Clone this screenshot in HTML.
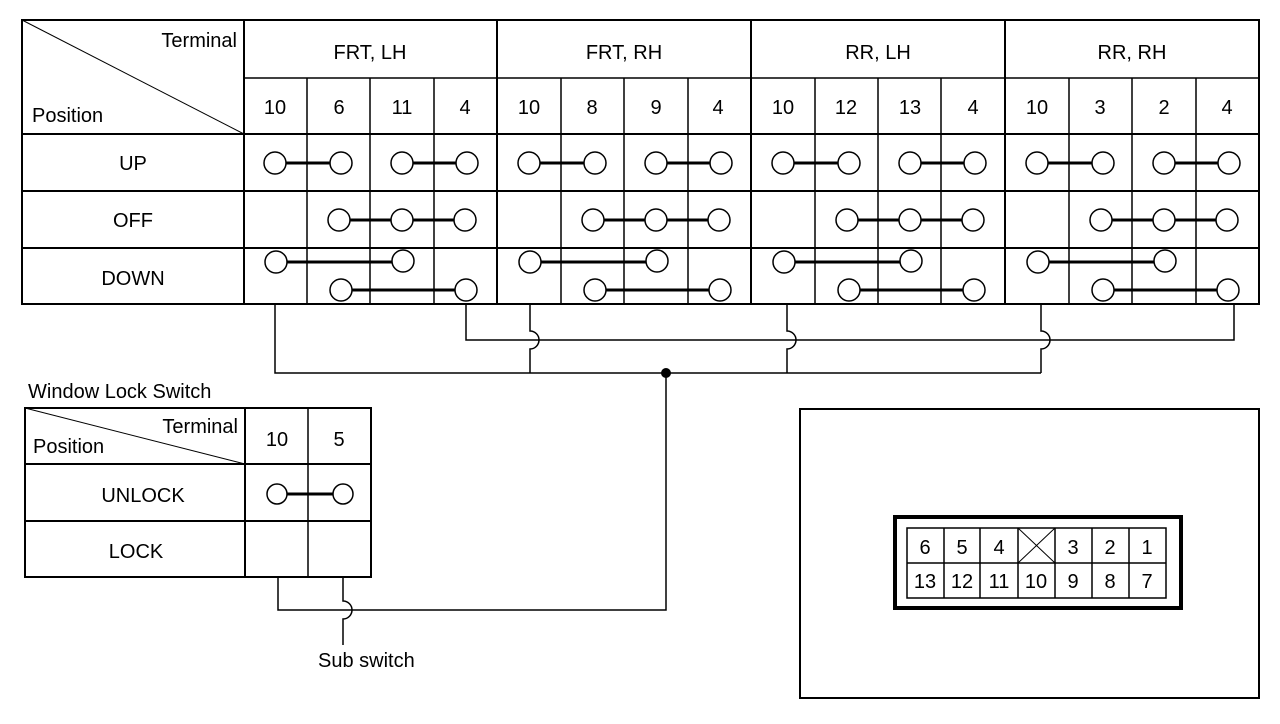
<!DOCTYPE html>
<html><head><meta charset="utf-8"><style>
html,body{margin:0;padding:0;background:#fff;}
svg{display:block;}
text{font-family:"Liberation Sans",Arial,sans-serif;fill:#000;}
</style></head><body>
<svg width="1280" height="724" viewBox="0 0 1280 724" xmlns="http://www.w3.org/2000/svg">
<g stroke="#000" fill="none">
<rect x="22" y="20" width="1237" height="284" stroke-width="2"/>
<line x1="22" y1="20" x2="244" y2="134" stroke-width="1"/>
<line x1="244" y1="20" x2="244" y2="304" stroke-width="2"/>
<line x1="497" y1="20" x2="497" y2="304" stroke-width="2"/>
<line x1="751" y1="20" x2="751" y2="304" stroke-width="2"/>
<line x1="1005" y1="20" x2="1005" y2="304" stroke-width="2"/>
<line x1="244" y1="78" x2="1259" y2="78" stroke-width="1.5"/>
<line x1="22" y1="134" x2="1259" y2="134" stroke-width="2"/>
<line x1="22" y1="191" x2="1259" y2="191" stroke-width="2"/>
<line x1="22" y1="248" x2="1259" y2="248" stroke-width="2"/>
<g stroke-width="1.5">
<line x1="307" y1="78" x2="307" y2="304"/><line x1="370" y1="78" x2="370" y2="304"/><line x1="434" y1="78" x2="434" y2="304"/>
<line x1="561" y1="78" x2="561" y2="304"/><line x1="624" y1="78" x2="624" y2="304"/><line x1="688" y1="78" x2="688" y2="304"/>
<line x1="815" y1="78" x2="815" y2="304"/><line x1="878" y1="78" x2="878" y2="304"/><line x1="941" y1="78" x2="941" y2="304"/>
<line x1="1069" y1="78" x2="1069" y2="304"/><line x1="1132" y1="78" x2="1132" y2="304"/><line x1="1196" y1="78" x2="1196" y2="304"/>
</g>
</g>
<g font-size="20" text-anchor="middle">
<text x="237" y="47" text-anchor="end">Terminal</text>
<text x="32" y="122" text-anchor="start">Position</text>
<text x="370" y="59">FRT, LH</text><text x="624" y="59">FRT, RH</text><text x="878" y="59">RR, LH</text><text x="1132" y="59">RR, RH</text>
<text x="275" y="114">10</text><text x="339" y="114">6</text><text x="402" y="114">11</text><text x="465" y="114">4</text>
<text x="529" y="114">10</text><text x="592" y="114">8</text><text x="656" y="114">9</text><text x="718" y="114">4</text>
<text x="783" y="114">10</text><text x="846" y="114">12</text><text x="910" y="114">13</text><text x="973" y="114">4</text>
<text x="1037" y="114">10</text><text x="1100" y="114">3</text><text x="1164" y="114">2</text><text x="1227" y="114">4</text>
<text x="133" y="170">UP</text><text x="133" y="227">OFF</text><text x="133" y="285">DOWN</text>
</g>
<defs>
<g id="sw">
<line x1="275" y1="163" x2="341" y2="163" stroke="#000" stroke-width="3"/>
<line x1="402" y1="163" x2="467" y2="163" stroke="#000" stroke-width="3"/>
<line x1="339" y1="220" x2="465" y2="220" stroke="#000" stroke-width="3"/>
<line x1="276" y1="262" x2="403" y2="262" stroke="#000" stroke-width="3"/>
<line x1="341" y1="290" x2="466" y2="290" stroke="#000" stroke-width="3"/>
<g fill="#fff" stroke="#000" stroke-width="1.5">
<circle cx="275" cy="163" r="11"/><circle cx="341" cy="163" r="11"/><circle cx="402" cy="163" r="11"/><circle cx="467" cy="163" r="11"/>
<circle cx="339" cy="220" r="11"/><circle cx="402" cy="220" r="11"/><circle cx="465" cy="220" r="11"/>
<circle cx="276" cy="262" r="11"/><circle cx="403" cy="261" r="11"/>
<circle cx="341" cy="290" r="11"/><circle cx="466" cy="290" r="11"/>
</g>
</g>
</defs>
<use href="#sw"/>
<use href="#sw" transform="translate(254,0)"/>
<use href="#sw" transform="translate(508,0)"/>
<use href="#sw" transform="translate(762,0)"/>
<g stroke="#000" fill="none" stroke-width="1.5">
<path d="M466 304 V340 H1234 V304"/>
<path d="M275 304 V373 H1041"/>
<path d="M530 304 V331 a9 9 0 0 1 0 18 V373"/>
<path d="M787 304 V331 a9 9 0 0 1 0 18 V373"/>
<path d="M1041 304 V331 a9 9 0 0 1 0 18 V373"/>
<path d="M666 373 V610 H278 V577"/>
<path d="M343 577 V601 a9 9 0 0 1 0 18 V645"/>
</g>
<circle cx="666" cy="373" r="5" fill="#000"/>
<g stroke="#000" fill="none">
<rect x="25" y="408" width="346" height="169" stroke-width="2"/>
<line x1="25" y1="408" x2="245" y2="464" stroke-width="1"/>
<line x1="245" y1="408" x2="245" y2="577" stroke-width="2"/>
<line x1="308" y1="408" x2="308" y2="577" stroke-width="1.5"/>
<line x1="25" y1="464" x2="371" y2="464" stroke-width="2"/>
<line x1="25" y1="521" x2="371" y2="521" stroke-width="2"/>
<line x1="277" y1="494" x2="343" y2="494" stroke-width="3"/>
<circle cx="277" cy="494" r="10" fill="#fff" stroke-width="1.5"/>
<circle cx="343" cy="494" r="10" fill="#fff" stroke-width="1.5"/>
</g>
<g font-size="20">
<text x="28" y="398">Window Lock Switch</text>
<text x="238" y="433" text-anchor="end">Terminal</text>
<text x="33" y="453">Position</text>
<text x="277" y="446" text-anchor="middle">10</text><text x="339" y="446" text-anchor="middle">5</text>
<text x="143" y="502" text-anchor="middle">UNLOCK</text>
<text x="136" y="558" text-anchor="middle">LOCK</text>
<text x="318" y="667">Sub switch</text>
</g>
<g stroke="#000" fill="none">
<rect x="800" y="409" width="459" height="289" stroke-width="2"/>
<rect x="895" y="517" width="286" height="91" stroke-width="4"/>
<rect x="907" y="528" width="259" height="70" stroke-width="1.5"/>
<line x1="907" y1="563" x2="1166" y2="563" stroke-width="1.5"/>
<line x1="944" y1="528" x2="944" y2="598" stroke-width="1.5"/>
<line x1="980" y1="528" x2="980" y2="598" stroke-width="1.5"/>
<line x1="1018" y1="528" x2="1018" y2="598" stroke-width="1.5"/>
<line x1="1055" y1="528" x2="1055" y2="598" stroke-width="1.5"/>
<line x1="1092" y1="528" x2="1092" y2="598" stroke-width="1.5"/>
<line x1="1129" y1="528" x2="1129" y2="598" stroke-width="1.5"/>
<line x1="1018" y1="528" x2="1055" y2="563" stroke-width="1"/>
<line x1="1055" y1="528" x2="1018" y2="563" stroke-width="1"/>
</g>
<g font-size="20" text-anchor="middle">
<text x="925" y="554">6</text><text x="962" y="554">5</text><text x="999" y="554">4</text>
<text x="1073" y="554">3</text><text x="1110" y="554">2</text><text x="1147" y="554">1</text>
<text x="925" y="588">13</text><text x="962" y="588">12</text><text x="999" y="588">11</text><text x="1036" y="588">10</text>
<text x="1073" y="588">9</text><text x="1110" y="588">8</text><text x="1147" y="588">7</text>
</g>
</svg>
</body></html>
